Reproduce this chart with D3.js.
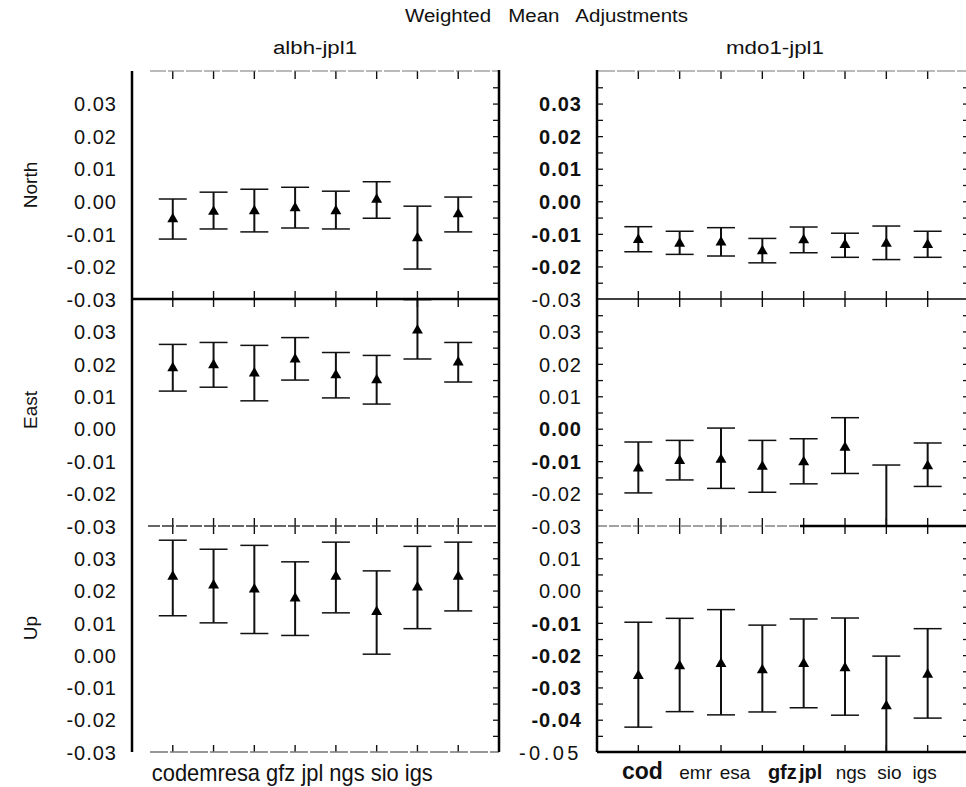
<!DOCTYPE html>
<html>
<head>
<meta charset="utf-8">
<title>Weighted Mean Adjustments</title>
<style>
  body { margin: 0; background: #fff; }
  svg text { font-family: "Liberation Sans", Arial, sans-serif; fill: #111; }
</style>
</head>
<body>
<div id="chart"></div>
<script src="https://cdn.jsdelivr.net/npm/d3@7/dist/d3.min.js"></script>
<script>
// ---- data ----
var categories = ["cod", "emr", "esa", "gfz", "jpl", "ngs", "sio", "igs"];
var rowNames = ["North", "East", "Up"];
var panelNames = ["albh-jpl1", "mdo1-jpl1"];

var albhNorthMean = [-0.0055, -0.0032, -0.0030, -0.0021, -0.0030, 0.0005, -0.0113, -0.0039];
var albhNorthHigh = [0.0007, 0.0028, 0.0037, 0.0043, 0.0031, 0.0060, -0.0015, 0.0013];
var albhNorthLow  = [-0.0116, -0.0085, -0.0094, -0.0082, -0.0085, -0.0052, -0.0208, -0.0094];

var albhEastMean = [0.0187, 0.0196, 0.0171, 0.0214, 0.0165, 0.0150, 0.0303, 0.0205];
var albhEastHigh = [0.0260, 0.0266, 0.0257, 0.0281, 0.0235, 0.0226, 0.0398, 0.0266];
var albhEastLow  = [0.0116, 0.0128, 0.0086, 0.0150, 0.0095, 0.0076, 0.0215, 0.0144];

var albhUpMean = [0.0243, 0.0216, 0.0204, 0.0176, 0.0243, 0.0134, 0.0210, 0.0243];
var albhUpHigh = [0.0356, 0.0328, 0.0340, 0.0289, 0.0350, 0.0261, 0.0337, 0.0350];
var albhUpLow  = [0.0122, 0.0100, 0.0067, 0.0061, 0.0131, 0.0003, 0.0082, 0.0137];

var mdo1NorthMean = [-0.0118, -0.0130, -0.0126, -0.0153, -0.0119, -0.0134, -0.0130, -0.0134];
var mdo1NorthHigh = [-0.0078, -0.0092, -0.0081, -0.0114, -0.0079, -0.0098, -0.0076, -0.0092];
var mdo1NorthLow  = [-0.0155, -0.0163, -0.0168, -0.0189, -0.0158, -0.0172, -0.0179, -0.0172];

var mdo1EastMean = [-0.0122, -0.0099, -0.0095, -0.0117, -0.0103, -0.0058, -0.0360, -0.0115];
var mdo1EastHigh = [-0.0041, -0.0036, 0.0002, -0.0036, -0.0031, 0.0034, -0.0112, -0.0044];
var mdo1EastLow  = [-0.0198, -0.0158, -0.0184, -0.0196, -0.0170, -0.0138, -0.0600, -0.0178];

var mdo1UpMean = [-0.0264, -0.0234, -0.0227, -0.0246, -0.0227, -0.0240, -0.0358, -0.0260];
var mdo1UpHigh = [-0.0098, -0.0086, -0.0059, -0.0107, -0.0088, -0.0085, -0.0203, -0.0118];
var mdo1UpLow  = [-0.0423, -0.0375, -0.0385, -0.0376, -0.0363, -0.0386, -0.0650, -0.0395];

var tickLabels = [-0.03, -0.02, -0.01, 0.00, 0.01, 0.02, 0.03];
var tickLabelsShifted = [-0.05, -0.04, -0.03, -0.02, -0.01, 0.00, 0.01];

// ---- layout ----
var W = 966, H = 787;
var rowTop = [71, 299, 526], rowBottom = [299, 526, 752];

var panels = [
  { name: panelNames[0], x0: 132, x1: 499, labelX: 117,
    rows: [
      { mean: albhNorthMean, hi: albhNorthHigh, lo: albhNorthLow, dom: [-0.03, 0.04], ticks: tickLabels },
      { mean: albhEastMean,  hi: albhEastHigh,  lo: albhEastLow,  dom: [-0.03, 0.04], ticks: tickLabels },
      { mean: albhUpMean,    hi: albhUpHigh,    lo: albhUpLow,    dom: [-0.03, 0.04], ticks: tickLabels }
    ] },
  { name: panelNames[1], x0: 597, x1: 969, labelX: 582,
    rows: [
      { mean: mdo1NorthMean, hi: mdo1NorthHigh, lo: mdo1NorthLow, dom: [-0.03, 0.04], ticks: tickLabels, bold: [-0.02, -0.01, 0, 0.01, 0.02, 0.03] },
      { mean: mdo1EastMean,  hi: mdo1EastHigh,  lo: mdo1EastLow,  dom: [-0.03, 0.04], ticks: tickLabels, bold: [-0.01, 0] },
      { mean: mdo1UpMean,    hi: mdo1UpHigh,    lo: mdo1UpLow,    dom: [-0.05, 0.02], ticks: tickLabelsShifted, bold: [-0.04, -0.03, -0.02, -0.01] }
    ] }
];

var svg = d3.select("#chart").append("svg")
    .attr("width", W)
    .attr("height", H);

function fmt(d) { return (Math.abs(d) < 1e-9 ? 0 : d).toFixed(2); }

function hline(x1, x2, y, color, width, dash) {
  svg.append("line")
    .attr("x1", x1).attr("x2", x2).attr("y1", y).attr("y2", y)
    .attr("stroke", color).attr("stroke-width", width)
    .attr("stroke-dasharray", dash || null);
}
function vline(x, y1, y2, color, width) {
  svg.append("line")
    .attr("x1", x).attr("x2", x).attr("y1", y1).attr("y2", y2)
    .attr("stroke", color).attr("stroke-width", width);
}

// title and panel names
svg.append("text")
    .attr("x", 405).attr("y", 22)
    .attr("textLength", 283).attr("lengthAdjust", "spacingAndGlyphs")
    .style("font-size", "18px").style("word-spacing", "10px")
    .text("Weighted Mean Adjustments");
svg.append("text").attr("x", 273).attr("y", 54)
    .attr("textLength", 84).attr("lengthAdjust", "spacingAndGlyphs")
    .style("font-size", "18px").text(panelNames[0]);
svg.append("text").attr("x", 726).attr("y", 54)
    .attr("textLength", 98).attr("lengthAdjust", "spacingAndGlyphs")
    .style("font-size", "18px").text(panelNames[1]);

// row labels
var rowLabelY = [185, 410, 628];
rowNames.forEach(function(n, i) {
  svg.append("text")
    .attr("transform", "translate(37," + rowLabelY[i] + ") rotate(-90)")
    .attr("text-anchor", "middle")
    .style("font-size", "19px")
    .text(n);
});

panels.forEach(function(p, pi) {
  var x = d3.scalePoint().domain(categories).range([p.x0, p.x1]).padding(1);

  p.rows.forEach(function(r, ri) {
    var y = d3.scaleLinear().domain(r.dom).range([rowBottom[ri], rowTop[ri]]);
    var minor = d3.range(Math.round(r.dom[0] * 200) + 1, Math.round(r.dom[1] * 200)).map(function(k) { return k / 200; });
    var bold = r.bold || [];

    // tick labels
    var lab = svg.append("g")
        .attr("transform", "translate(" + p.labelX + ",0)")
        .call(d3.axisLeft(y).tickValues(r.ticks).tickSize(0).tickPadding(0).tickFormat(fmt));
    lab.select(".domain").remove();
    lab.selectAll("text")
        .attr("dy", "0.36em")
        .style("font-family", "'Liberation Sans', Arial, sans-serif")
        .style("font-size", "20px")
        .style("fill", "#111")
        .style("font-weight", function(d) { return bold.some(function(b) { return Math.abs(b - d) < 1e-9; }) ? "bold" : "normal"; })
        .style("letter-spacing", function(d) { return (pi === 1 && Math.abs(d + 0.05) < 1e-9) ? "3.5px" : "1px"; });

    // inner frame ticks
    if (pi === 0) {
      var rt = svg.append("g").attr("transform", "translate(" + p.x1 + ",0)")
          .call(d3.axisLeft(y).tickValues(minor).tickSize(6).tickFormat(""));
      rt.select(".domain").remove();
      rt.selectAll("line").attr("stroke", "#111").attr("stroke-width", 1.3);
    } else {
      var lt = svg.append("g").attr("transform", "translate(" + p.x0 + ",0)")
          .call(d3.axisRight(y).tickValues(minor).tickSize(6).tickFormat(""));
      lt.select(".domain").remove();
      lt.selectAll("line").attr("stroke", "#111").attr("stroke-width", 1.3);
      var rt2 = svg.append("g").attr("transform", "translate(968,0)")
          .call(d3.axisLeft(y).tickValues(minor).tickSize(5).tickFormat(""));
      rt2.select(".domain").remove();
      rt2.selectAll("line").attr("stroke", "#111").attr("stroke-width", 1.3);
    }

    // error bars, clipped to the row
    var clipId = "clip-" + pi + "-" + ri;
    svg.append("clipPath").attr("id", clipId)
      .append("rect")
        .attr("x", p.x0).attr("y", rowTop[ri])
        .attr("width", p.x1 - p.x0).attr("height", rowBottom[ri] - rowTop[ri]);

    var pts = categories.map(function(c, i) {
      return { c: c, m: r.mean[i], hi: r.hi[i], lo: r.lo[i] };
    });

    var g = svg.append("g").attr("clip-path", "url(#" + clipId + ")");
    g.selectAll(".stem").data(pts).enter().append("line")
        .attr("class", "stem")
        .attr("x1", function(d) { return x(d.c); }).attr("x2", function(d) { return x(d.c); })
        .attr("y1", function(d) { return y(d.hi); }).attr("y2", function(d) { return y(d.lo); })
        .attr("stroke", "#111").attr("stroke-width", 2);
    ["hi", "lo"].forEach(function(k) {
      g.selectAll(".cap-" + k).data(pts).enter().append("line")
          .attr("class", "cap-" + k)
          .attr("x1", function(d) { return x(d.c) - 14; }).attr("x2", function(d) { return x(d.c) + 14; })
          .attr("y1", function(d) { return y(d[k]); }).attr("y2", function(d) { return y(d[k]); })
          .attr("stroke", "#111").attr("stroke-width", 1.5);
    });
    g.selectAll(".mark").data(pts).enter().append("path")
        .attr("class", "mark")
        .attr("d", d3.symbol(d3.symbolTriangle, 52))
        .attr("transform", function(d) { return "translate(" + x(d.c) + "," + y(d.m) + ")"; })
        .attr("fill", "#000");
  });

  // category ticks on top, dividers and bottom
  var tickRows = [
    { y: rowTop[0], up: 0, down: 8 },
    { y: rowTop[1], up: 8, down: 8 },
    { y: rowTop[2], up: 8, down: 8 },
    { y: rowBottom[2], up: 7, down: 0 }
  ];
  tickRows.forEach(function(t) {
    svg.append("g").selectAll("line").data(categories).enter().append("line")
        .attr("x1", function(d) { return x(d); }).attr("x2", function(d) { return x(d); })
        .attr("y1", t.y - t.up).attr("y2", t.y + t.down)
        .attr("stroke", "#111").attr("stroke-width", 1.4);
  });
});

// frame lines (scanned look)
hline(150, 499, 71, "#777", 1.2, "16,2");
hline(132, 499, 299, "#000", 2.5);
hline(148, 499, 526, "#333", 1.3, "12,2");
hline(150, 499, 752, "#777", 1.3, "18,2");
vline(132, 71, 752, "#000", 2.5);
vline(499, 70, 752, "#000", 2.5);

hline(597, 968, 71, "#777", 1.2, "18,2");
hline(597, 968, 299, "#000", 1.4);
hline(597, 800, 526, "#444", 1.2, "10,2");
hline(800, 968, 526, "#000", 2.5);
hline(597, 968, 752, "#000", 2.5);
vline(597, 70, 752, "#000", 2.5);

// category labels
var leftX = d3.scalePoint().domain(categories).range([panels[0].x0, panels[0].x1]).padding(1);
svg.append("text")
    .attr("x", leftX(categories[0]) - 21).attr("y", 781)
    .attr("textLength", 281).attr("lengthAdjust", "spacingAndGlyphs")
    .style("font-size", "24px")
    .text(categories.slice(0, 3).join("") + " " + categories.slice(3).join(" "));

var rightX = d3.scalePoint().domain(categories).range([panels[1].x0, panels[1].x1]).padding(1);
var rightLabelNudge = [4, 16, 14, 20, 7, 6, 3, -3];
var rightLabelBold = ["cod", "gfz", "jpl"];
svg.append("g").selectAll("text").data(categories).enter().append("text")
    .attr("x", function(d, i) { return rightX(d) + rightLabelNudge[i]; })
    .attr("y", 779)
    .attr("text-anchor", "middle")
    .style("font-size", function(d) { return d === "cod" ? "23px" : (rightLabelBold.indexOf(d) >= 0 ? "20px" : "19px"); })
    .style("font-weight", function(d) { return rightLabelBold.indexOf(d) >= 0 ? "bold" : "normal"; })
    .text(function(d) { return d; });
</script>
</body>
</html>
